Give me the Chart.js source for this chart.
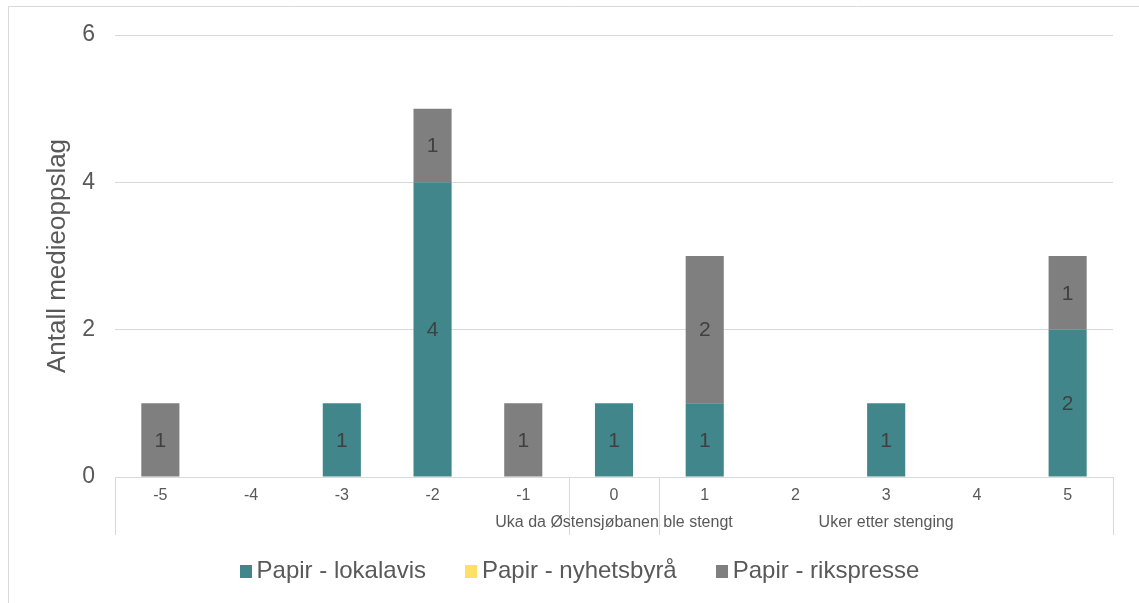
<!DOCTYPE html>
<html>
<head>
<meta charset="utf-8">
<script src="https://cdn.jsdelivr.net/npm/chart.js@4/dist/chart.umd.min.js"></script>
<style>
  html, body { margin: 0; padding: 0; background: #ffffff; }
  canvas { display: block; }
</style>
</head>
<body>
<canvas id="chart" width="1139" height="603"></canvas>
<script>
// Weeks relative to the closure of Østensjøbanen
const weeks = ['-5', '-4', '-3', '-2', '-1', '0', '1', '2', '3', '4', '5'];

// Number of media items per week, by source type
const lokalavis   = [0, 0, 1, 4, 0, 1, 1, 0, 1, 0, 2];
const nyhetsbyraa = [0, 0, 0, 0, 0, 0, 0, 0, 0, 0, 0];
const rikspresse  = [1, 0, 0, 1, 1, 0, 2, 0, 0, 0, 1];

const seriesNames = ['Papir - lokalavis', 'Papir - nyhetsbyrå', 'Papir - rikspresse'];

// Second level of the category axis: label and number of weeks it spans
const groupNames = ['', 'Uka da Østensjøbanen ble stengt', 'Uker etter stenging'];
const groupSpans = [5, 1, 5];

const yTicks = [0, 2, 4, 6];
const yTitle = 'Antall medieoppslag';

const COLORS = ['#40868A', '#FFE066', '#7F7F7F'];
const TEXT = '#595959';
const LINE = '#d9d9d9';
const FONT = "'Liberation Sans', Arial, sans-serif";

// Draws value labels, the grouped category axis, axis title, frame and legend
const decorations = {
  id: 'decorations',
  afterDatasetsDraw(chart) {
    const ctx = chart.ctx;
    ctx.save();
    ctx.font = '21px ' + FONT;
    ctx.fillStyle = '#404040';
    ctx.textAlign = 'center';
    ctx.textBaseline = 'middle';
    chart.data.datasets.forEach((ds, di) => {
      const meta = chart.getDatasetMeta(di);
      meta.data.forEach((el, i) => {
        const v = ds.data[i];
        if (!v) return;
        ctx.fillText(String(v), el.x, (el.y + el.base) / 2 + 1);
      });
    });
    ctx.restore();
  },
  afterDraw(chart) {
    const ctx = chart.ctx;
    const area = chart.chartArea;
    const x = chart.scales.x;
    const boxBottom = area.bottom + 58;
    ctx.save();

    // outer frame (left and top edges)
    ctx.strokeStyle = LINE;
    ctx.lineWidth = 1;
    ctx.beginPath();
    ctx.moveTo(8.5, chart.height);
    ctx.lineTo(8.5, 6.5);
    ctx.lineTo(chart.width, 6.5);
    ctx.stroke();

    // category axis line and group separators
    const half = (x.getPixelForValue(1) - x.getPixelForValue(0)) / 2;
    ctx.beginPath();
    ctx.moveTo(area.left, Math.round(area.bottom) + 0.5);
    ctx.lineTo(area.right, Math.round(area.bottom) + 0.5);
    let start = 0;
    const edges = [area.left];
    groupSpans.forEach(n => {
      start += n;
      edges.push(x.getPixelForValue(start - 1) + half);
    });
    edges.forEach(px => {
      const xx = Math.round(px) + 0.5;
      ctx.moveTo(xx, area.bottom);
      ctx.lineTo(xx, boxBottom);
    });
    ctx.stroke();

    // group labels
    ctx.fillStyle = TEXT;
    ctx.font = '16px ' + FONT;
    ctx.textAlign = 'center';
    ctx.textBaseline = 'middle';
    start = 0;
    groupSpans.forEach((n, gi) => {
      const a = x.getPixelForValue(start) - half;
      const b = x.getPixelForValue(start + n - 1) + half;
      if (groupNames[gi]) ctx.fillText(groupNames[gi], (a + b) / 2, area.bottom + 46);
      start += n;
    });

    // value axis title
    ctx.save();
    ctx.font = '26px ' + FONT;
    ctx.translate(58, (area.top + area.bottom) / 2);
    ctx.rotate(-Math.PI / 2);
    ctx.fillText(yTitle, 0, 0);
    ctx.restore();

    // legend
    ctx.font = '24px ' + FONT;
    ctx.textAlign = 'left';
    const box = 12, gapText = 5, gapItem = 39;
    const widths = chart.data.datasets.map(ds => ctx.measureText(ds.label).width);
    const total = widths.reduce((s, w) => s + box + gapText + w, 0) + gapItem * (widths.length - 1);
    let lx = 579.5 - total / 2;
    const ly = 571;
    chart.data.datasets.forEach((ds, di) => {
      ctx.fillStyle = ds.backgroundColor;
      ctx.fillRect(Math.round(lx), ly - 6, box, box + 1);
      ctx.fillStyle = TEXT;
      ctx.fillText(ds.label, lx + box + gapText, ly);
      lx += box + gapText + widths[di] + gapItem;
    });

    ctx.restore();
  }
};

new Chart(document.getElementById('chart'), {
  type: 'bar',
  data: {
    labels: weeks,
    datasets: [
      { label: seriesNames[0], data: lokalavis,   backgroundColor: COLORS[0] },
      { label: seriesNames[1], data: nyhetsbyraa, backgroundColor: COLORS[1] },
      { label: seriesNames[2], data: rikspresse,  backgroundColor: COLORS[2] }
    ]
  },
  options: {
    responsive: false,
    animation: false,
    devicePixelRatio: 1,
    layout: { padding: { left: 0, right: 26, top: 35, bottom: 68 } },
    datasets: { bar: { categoryPercentage: 1, barPercentage: 0.42, borderWidth: 0 } },
    plugins: {
      legend: { display: false },
      tooltip: { enabled: false },
      title: { display: false }
    },
    scales: {
      x: {
        stacked: true,
        grid: { display: false, drawTicks: false },
        border: { display: false },
        ticks: { color: TEXT, font: { family: FONT, size: 16 }, padding: 9, maxRotation: 0 },
        afterFit(s) { s.height = 58; }
      },
      y: {
        stacked: true,
        min: 0,
        max: 6,
        afterBuildTicks(s) { s.ticks = yTicks.map(v => ({ value: v })); },
        grid: { color: LINE, lineWidth: 1, drawTicks: false },
        border: { display: false },
        ticks: { color: TEXT, font: { family: FONT, size: 23 }, padding: 20 },
        afterFit(s) { s.width = 115; }
      }
    }
  },
  plugins: [decorations]
});
</script>
</body>
</html>
